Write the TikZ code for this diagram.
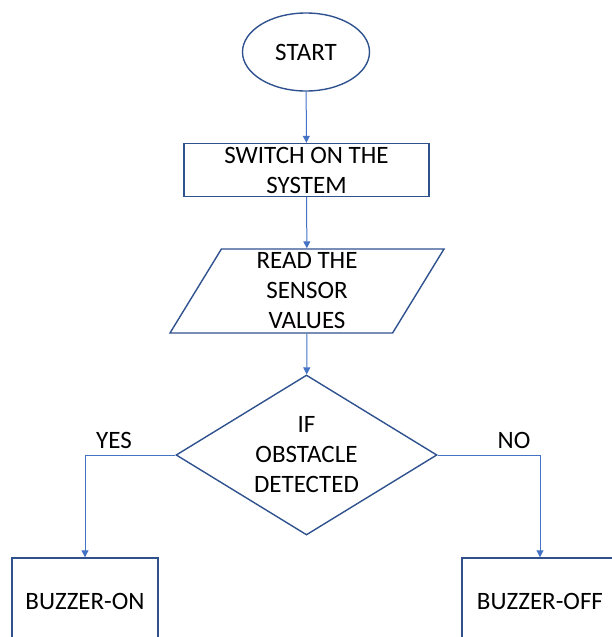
\documentclass[tikz,border=0pt]{standalone}
\usepackage{fontspec}
\setmainfont{Carlito}
\usetikzlibrary{shapes, arrows.meta, calc}

\definecolor{shapeblue}{HTML}{2F528F}
\definecolor{lineblue}{HTML}{4472C4}

\begin{document}
\begin{tikzpicture}[x=1pt, y=-1pt,
    every node/.style={font=\fontsize{25}{30}\selectfont, align=center, inner sep=0pt},
    box/.style={draw=shapeblue, line width=1.4pt},
    flow/.style={-{Triangle[width=7pt, length=7pt]}, draw=lineblue, line width=1pt}]
             \useasboundingbox (0,0) rectangle (612,637);
             \clip (0,0) rectangle (612,637);
             \node [box, ellipse, minimum width=127, minimum height=78] (start) at (306,52) {START};
             \node [box, rectangle, minimum width=245, minimum height=53] (switch) at (306.5,170) {SWITCH ON THE\\SYSTEM};
             \node [box, trapezium, trapezium left angle=56, trapezium right angle=124, trapezium stretches body,
                    minimum width=274, minimum height=84] (read) at (307,291) {READ THE\\SENSOR\\VALUES};
             \node [box, diamond, shape aspect=1.63, inner sep=-8pt, minimum width=261, minimum height=160] (decide) at (306.5,455) {IF\\OBSTACLE\\DETECTED};
             \node (yes) at (114,440) {YES};
             \node (no) at (514,440) {NO};
             \node [box, rectangle, minimum width=146, minimum height=86] (on) at (85,601) {BUZZER-ON};
             \node [box, rectangle, minimum width=156, minimum height=86] (off) at (540,601) {BUZZER-OFF};
             % connectors
             \draw [flow] (start) -- (switch);
             \draw [flow] (switch) -- (read);
             \draw [flow] (read) -- (decide);
             \draw [flow] (decide.west) -| (on.north);
             \draw [flow] (decide.east) -| (off.north);
         \end{tikzpicture}
\end{document}
